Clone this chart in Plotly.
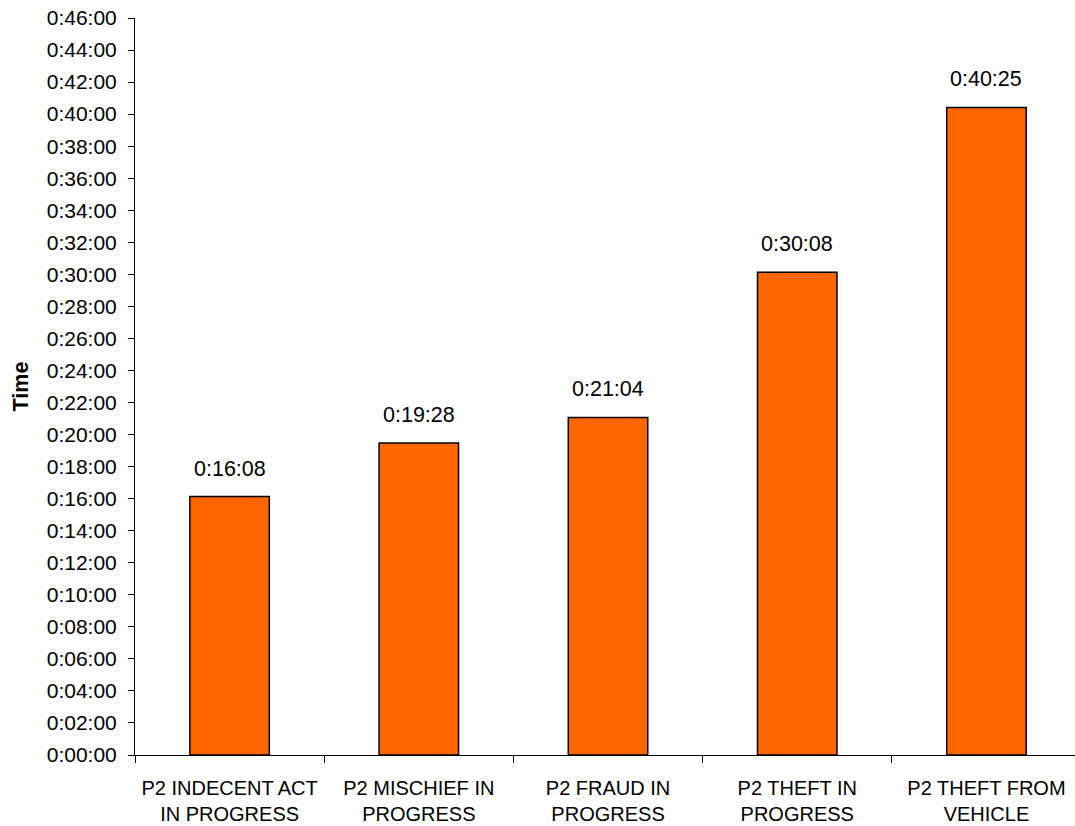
import plotly.graph_objects as go

categories = [
    "P2 INDECENT ACT<br>IN PROGRESS",
    "P2 MISCHIEF IN<br>PROGRESS",
    "P2 FRAUD IN<br>PROGRESS",
    "P2 THEFT IN<br>PROGRESS",
    "P2 THEFT FROM<br>VEHICLE",
]
durations = ["0:16:08", "0:19:28", "0:21:04", "0:30:08", "0:40:25"]

tick_labels = [
    "0:00:00", "0:02:00", "0:04:00", "0:06:00", "0:08:00", "0:10:00",
    "0:12:00", "0:14:00", "0:16:00", "0:18:00", "0:20:00", "0:22:00",
    "0:24:00", "0:26:00", "0:28:00", "0:30:00", "0:32:00", "0:34:00",
    "0:36:00", "0:38:00", "0:40:00", "0:42:00", "0:44:00", "0:46:00",
]


def to_seconds(s):
    h, m, sec = (int(p) for p in s.split(":"))
    return h * 3600 + m * 60 + sec


values = [to_seconds(d) for d in durations]
tick_vals = [to_seconds(t) for t in tick_labels]

FONT = "Liberation Sans, Arial, sans-serif"

fig = go.Figure(
    go.Bar(
        x=categories,
        y=values,
        width=0.42,
        marker=dict(color="#FF6600", line=dict(color="black", width=1.5)),
        hoverinfo="skip",
    )
)

for c, v, d in zip(categories, values, durations):
    fig.add_annotation(
        x=c, y=v, text=d, showarrow=False, yanchor="bottom", yshift=14,
        font=dict(family=FONT, size=21.5, color="black"),
    )

fig.update_layout(
    width=1075,
    height=826,
    margin=dict(l=135, r=0, t=18, b=71),
    paper_bgcolor="white",
    plot_bgcolor="white",
    font=dict(family=FONT, size=20, color="black"),
    showlegend=False,
)

fig.update_xaxes(
    range=[-0.5, 4.468],
    automargin=False,
    showline=True, linecolor="black", linewidth=1,
    ticks="outside", ticklen=7, tickcolor="black",
    tickson="boundaries",
    ticklabelstandoff=15,
    showgrid=False,
    tickfont=dict(family=FONT, size=20),
)
fig.update_yaxes(
    range=[0, tick_vals[-1]],
    automargin=False,
    tickvals=tick_vals, ticktext=tick_labels,
    showline=True, linecolor="black", linewidth=1,
    ticks="outside", ticklen=6, tickcolor="black",
    ticklabelstandoff=7,
    showgrid=False, zeroline=False,
    tickfont=dict(family=FONT, size=21),
    title=dict(text="<b>Time</b>", font=dict(family=FONT, size=21.5), standoff=12),
)

fig.write_html(
    "out.html",
    config={"displayModeBar": False},
    post_script="document.body.style.margin='0';document.body.style.overflow='hidden';",
)
